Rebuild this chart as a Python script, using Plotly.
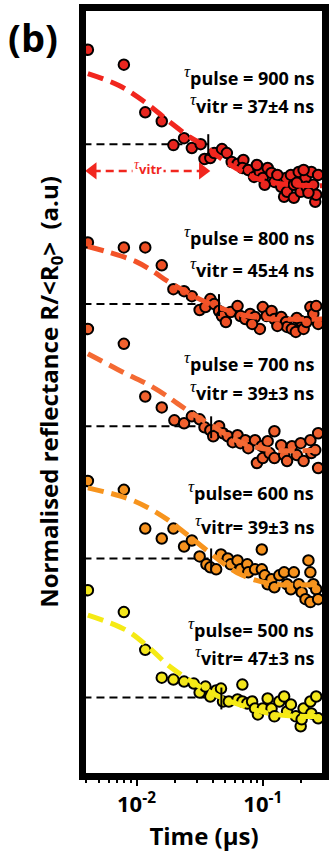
import math
import plotly.graph_objects as go

FONT = "Open Sans"

# ---------------- data (time in µs, reflectance in a.u., stacked) ----------------
t900 = [0.00412, 0.00794, 0.01173, 0.01585, 0.0196, 0.02381, 0.02744, 0.03221, 0.03455, 0.03843,
        0.04125, 0.04753, 0.05194, 0.05675, 0.0631, 0.07019, 0.06893, 0.07674, 0.08525, 0.09482,
        0.1, 0.1093, 0.1173, 0.1236, 0.14, 0.1476, 0.1531, 0.1557, 0.167, 0.1763,
        0.1763, 0.1927, 0.1996, 0.2181, 0.2219, 0.2425, 0.2512, 0.2603, 0.2649, 0.2744,
        0.1305, 0.0899, 0.1036, 0.186, 0.2299, 0.2106]
y900 = [7.28, 7.13, 6.65, 6.56, 6.32, 6.39, 6.29, 6.33, 6.18, 6.19,
        6.24, 6.28, 6.24, 6.15, 6.13, 6.17, 6.09, 6.07, 6.00, 6.05,
        5.99, 6.09, 6.04, 5.95, 5.90, 5.80, 5.99, 5.85, 6.02, 5.92,
        5.79, 6.05, 5.85, 5.99, 5.90, 6.05, 5.92, 5.75, 5.82, 6.02,
        6.02, 6.12, 5.92, 5.94, 5.84, 6.07]
fit_t900 = [0.00412, 0.00727, 0.01173, 0.01762, 0.02649, 0.03396, 0.04274, 0.06093, 0.0868, 0.1236, 0.1763, 0.2944]
fit_y900 = [7.04, 6.92, 6.75, 6.57, 6.40, 6.32, 6.22, 6.09, 5.99, 5.94, 5.92, 5.91]

t800 = [0.00412, 0.00794, 0.01173, 0.01585, 0.0196, 0.02381, 0.02744, 0.03162, 0.03515, 0.03843,
        0.04125, 0.04507, 0.04753, 0.05102, 0.05572, 0.0631, 0.06653, 0.07271, 0.07943, 0.0868,
        0.09482, 0.1, 0.1073, 0.1173, 0.1236, 0.14, 0.1531, 0.1557, 0.1701, 0.1827,
        0.1996, 0.2106, 0.2382, 0.2512, 0.2649, 0.2744, 0.0823, 0.1305, 0.186, 0.2219]
y800 = [5.34, 5.29, 5.29, 5.11, 4.87, 4.85, 4.80, 4.66, 4.69, 4.77,
        4.72, 4.65, 4.60, 4.54, 4.64, 4.70, 4.60, 4.57, 4.62, 4.59,
        4.47, 4.69, 4.60, 4.65, 4.57, 4.59, 4.54, 4.49, 4.47, 4.44,
        4.55, 4.47, 4.69, 4.62, 4.70, 4.52, 4.52, 4.50, 4.58, 4.54]
fit_t800 = [0.00412, 0.00609, 0.00982, 0.01351, 0.01762, 0.02512, 0.03396, 0.04667, 0.06427, 0.0868, 0.1173, 0.2944]
fit_y800 = [5.30, 5.24, 5.15, 5.05, 4.95, 4.84, 4.75, 4.68, 4.62, 4.59, 4.57, 4.57]

t700 = [0.00412, 0.00794, 0.01173, 0.01585, 0.01995, 0.02381, 0.02744, 0.03162, 0.03455, 0.03843,
        0.04053, 0.04507, 0.04842, 0.05285, 0.05781, 0.0631, 0.06653, 0.07271, 0.07674, 0.0868,
        0.08992, 0.09825, 0.1, 0.1093, 0.1132, 0.1236, 0.1236, 0.14, 0.1476, 0.1557,
        0.1701, 0.186, 0.1996, 0.2106, 0.2382, 0.2425, 0.2603, 0.2744, 0.2744]
y700 = [4.47, 4.32, 3.79, 3.68, 3.55, 3.52, 3.59, 3.56, 3.48, 3.45,
        3.39, 3.49, 3.42, 3.39, 3.33, 3.40, 3.32, 3.35, 3.27, 3.35,
        3.12, 3.29, 3.17, 3.34, 3.22, 3.44, 3.17, 3.30, 3.20, 3.14,
        3.29, 3.20, 3.32, 3.14, 3.35, 3.22, 3.25, 3.07, 3.42]
fit_t700 = [0.00412, 0.00823, 0.01236, 0.01762, 0.02104, 0.02998, 0.04053, 0.06893, 0.1236, 0.2944]
fit_y700 = [4.22, 4.02, 3.91, 3.79, 3.72, 3.59, 3.49, 3.32, 3.25, 3.25]

t600 = [0.00412, 0.00794, 0.01173, 0.01585, 0.0196, 0.02381, 0.02744, 0.03162, 0.03579, 0.03843,
        0.04274, 0.04667, 0.05285, 0.05572, 0.0631, 0.06653, 0.07536, 0.07674, 0.0868, 0.09825,
        0.09825, 0.1036, 0.1093, 0.1173, 0.1236, 0.1351, 0.1476, 0.1557, 0.167, 0.1763,
        0.1927, 0.2032, 0.2181, 0.2299, 0.2382, 0.2382, 0.2512, 0.2649, 0.2744]
y600 = [2.94, 2.85, 2.46, 2.36, 2.46, 2.28, 2.34, 2.18, 2.10, 2.07,
        2.05, 2.20, 2.16, 2.10, 2.14, 2.05, 2.10, 2.02, 2.05, 2.25,
        2.05, 1.99, 1.90, 1.95, 1.87, 1.99, 2.02, 1.90, 1.85, 2.02,
        1.90, 1.82, 1.75, 2.14, 2.02, 1.72, 1.90, 1.85, 1.75]
fit_t600 = [0.00412, 0.00823, 0.01236, 0.01762, 0.02512, 0.03775, 0.05102, 0.06893, 0.1236, 0.2944]
fit_y600 = [2.87, 2.77, 2.67, 2.55, 2.40, 2.22, 2.09, 1.99, 1.90, 1.90]

t500 = [0.00412, 0.00794, 0.01173, 0.01585, 0.0196, 0.02381, 0.02844, 0.03162, 0.03515, 0.03843,
        0.04274, 0.04667, 0.04842, 0.05383, 0.0631, 0.06893, 0.06893, 0.07536, 0.0823, 0.0868,
        0.09152, 0.1, 0.1093, 0.1173, 0.1236, 0.1351, 0.1476, 0.1557, 0.167, 0.1827,
        0.1996, 0.2032, 0.2106, 0.2382, 0.2425, 0.2649, 0.2744]
y500 = [1.84, 1.62, 1.24, 0.96, 0.94, 0.92, 0.90, 0.81, 0.87, 0.77,
        0.83, 0.85, 0.72, 0.72, 0.74, 0.89, 0.72, 0.70, 0.72, 0.65,
        0.59, 0.65, 0.75, 0.65, 0.57, 0.72, 0.77, 0.62, 0.69, 0.57,
        0.47, 0.54, 0.65, 0.72, 0.60, 0.77, 0.55]
fit_t500 = [0.00412, 0.00823, 0.01236, 0.01762, 0.02381, 0.03162, 0.04667, 0.06427, 0.1236, 0.2944]
fit_y500 = [1.59, 1.44, 1.27, 1.09, 0.97, 0.87, 0.76, 0.69, 0.59, 0.57]

pulse_ns = [900, 800, 700, 600, 500]
tau_vitr_ns = [37, 45, 39, 39, 47]
tau_err_ns = [4, 4, 3, 3, 3]
level_1e = [6.33, 4.72, 3.49, 2.16, 0.76]      # 1/e reflectance levels (dashed black)
label_y = [(7.02, 6.73), (5.41, 5.08), (4.14, 3.85), (2.84, 2.50), (1.46, 1.18)]
tight_eq = [False, False, False, True, True]

arrow_t = [0.00450, 0.03350]
arrow_y = [6.06, 6.06]

x_tickvals = [0.01, 0.1]
x_ticktext = ["10<sup>-2</sup>", "10<sup>-1</sup>"]

marker_fill = ["#e8261f", "#ee4f24", "#f0612e", "#f6921e", "#f3e61b"]
fit_color = ["#f1261e", "#f35328", "#f46a33", "#f7941d", "#f5ea15"]

pts = [(t900, y900), (t800, y800), (t700, y700), (t600, y600), (t500, y500)]
fits = [(fit_t900, fit_y900), (fit_t800, fit_y800), (fit_t700, fit_y700),
        (fit_t600, fit_y600), (fit_t500, fit_y500)]

fig = go.Figure()

X_LEFT = 10 ** -2.42

# dashed black 1/e reference lines
for lev, tv in zip(level_1e, tau_vitr_ns):
    fig.add_trace(go.Scatter(x=[X_LEFT, tv / 1000], y=[lev, lev], mode="lines",
                             line=dict(color="black", width=2, dash="8px,5px"),
                             showlegend=False, hoverinfo="skip"))

# data points
for (tt, yy), fc in zip(pts, marker_fill):
    fig.add_trace(go.Scatter(x=tt, y=yy, mode="markers",
                             marker=dict(size=10.5, color=fc, line=dict(color="black", width=2)),
                             showlegend=False))

# fits
for (tt, yy), lc in zip(fits, fit_color):
    fig.add_trace(go.Scatter(x=tt, y=yy, mode="lines", line_shape="spline",
                             line=dict(color=lc, width=5, dash="16px,8px"),
                             showlegend=False, hoverinfo="skip"))

# vertical markers at tau_vitr
for lev, tv in zip(level_1e, tau_vitr_ns):
    fig.add_trace(go.Scatter(x=[tv / 1000, tv / 1000], y=[lev - 0.12, lev + 0.10], mode="lines",
                             line=dict(color="black", width=2),
                             showlegend=False, hoverinfo="skip"))

# red double arrow for tau_vitr
fig.add_trace(go.Scatter(x=arrow_t, y=arrow_y, mode="lines+markers",
                         line=dict(color="#f1261e", width=2.5, dash="8px,5px"),
                         marker=dict(symbol=["triangle-left", "triangle-right"], size=15,
                                     color="#f1261e", line=dict(width=0)),
                         showlegend=False, hoverinfo="skip"))


def tau(px):
    return ("<sup><span style='font-family:Liberation Serif;font-style:italic;"
            f"font-weight:normal;font-size:{px}px'>τ</span></sup>")


annotations = []
for p, tv, te, (ya, yb), tight in zip(pulse_ns, tau_vitr_ns, tau_err_ns, label_y, tight_eq):
    eq = "=" if tight else " ="
    annotations.append(dict(x=0.975, xref="paper", y=ya, yref="y", xanchor="right", yanchor="middle",
                            text=f"{tau(17)}pulse{eq} {p} ns", showarrow=False,
                            font=dict(family=FONT, size=18, color="black", weight="bold")))
    annotations.append(dict(x=0.975, xref="paper", y=yb, yref="y", xanchor="right", yanchor="middle",
                            text=f"{tau(17)}vitr{eq} {tv}±{te} ns", showarrow=False,
                            font=dict(family=FONT, size=18, color="black", weight="bold")))

annotations.append(dict(x=math.log10((arrow_t[0] * arrow_t[1]) ** 0.5), xref="x",
                        y=arrow_y[0] + 0.03, yref="y",
                        text=tau(14) + "vitr", showarrow=False, bgcolor="white", borderpad=1,
                        font=dict(family=FONT, size=13, color="#f1261e", weight="bold")))

annotations.append(dict(x=-0.34, xref="paper", y=1.003, yref="paper", xanchor="left", yanchor="top",
                        text="(b)", showarrow=False,
                        font=dict(family=FONT, size=38, color="black", weight="bold")))

fig.update_layout(
    width=333, height=865,
    margin=dict(l=86, r=4, t=6, b=92),
    paper_bgcolor="white", plot_bgcolor="white",
    showlegend=False,
    annotations=annotations,
    font=dict(family=FONT, color="black"),
)

fig.update_xaxes(type="log", range=[-2.4, -0.531],
                 tickmode="array", tickvals=x_tickvals, ticktext=x_ticktext,
                 ticks="outside", ticklen=6, tickwidth=2, tickcolor="black",
                 minor=dict(ticks="outside", ticklen=3, tickwidth=2, tickcolor="black", dtick="D1", showgrid=False),
                 showline=True, linewidth=7, linecolor="black", mirror=True,
                 showgrid=False, zeroline=False,
                 tickfont=dict(family=FONT, size=22, color="black", weight="bold"),
                 title=dict(text="Time (µs)", standoff=13,
                            font=dict(family=FONT, size=24, color="black", weight="bold")))

fig.update_yaxes(range=[0, 7.67], showticklabels=False, ticks="",
                 showline=True, linewidth=7, linecolor="black", mirror=True,
                 showgrid=False, zeroline=False,
                 title=dict(text="Normalised reflectance R/&lt;R<sub>0</sub>&gt;  (a.u)", standoff=16,
                            font=dict(family=FONT, size=24, color="black", weight="bold")))

fig.write_html("out.html")
